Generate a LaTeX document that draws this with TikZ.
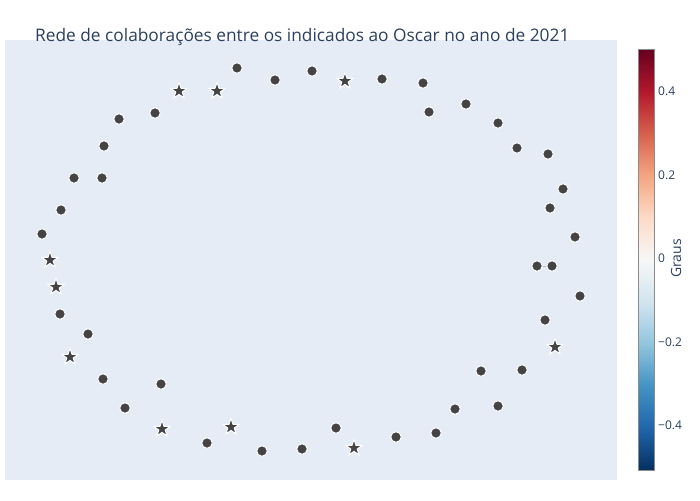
\documentclass[tikz,border=0pt]{standalone}
\usepackage{fontspec}
\setmainfont{Open Sans}
\usetikzlibrary{positioning,shapes.geometric}

\definecolor{plotbg}{HTML}{E5ECF6}
\definecolor{markgray}{HTML}{444444}
\definecolor{inkblue}{HTML}{2A3F5F}
% RdBu, from -0.5 (cb0) up to 0.5 (cb10)
\definecolor{cb0}{RGB}{5,48,97}
\definecolor{cb1}{RGB}{33,102,172}
\definecolor{cb2}{RGB}{67,147,195}
\definecolor{cb3}{RGB}{146,197,222}
\definecolor{cb4}{RGB}{209,229,240}
\definecolor{cb5}{RGB}{247,247,247}
\definecolor{cb6}{RGB}{253,219,199}
\definecolor{cb7}{RGB}{244,165,130}
\definecolor{cb8}{RGB}{214,96,77}
\definecolor{cb9}{RGB}{178,24,43}
\definecolor{cb10}{RGB}{103,0,31}

\begin{document}
\begin{tikzpicture}[x=1pt,y=-1pt]
	\tikzstyle{actor}=[circle, fill=markgray, draw=white, line width=1pt, inner sep=0pt, minimum size=10.5pt]
	\tikzstyle{winner}=[star, star points=5, star point ratio=2.5, fill=markgray, draw=white, line width=1pt, inner sep=0pt, minimum size=17pt]
	\tikzstyle{link}=[draw=black!25, line width=0.8pt]
	\tikzstyle{tick}=[font=\fontsize{12}{12}\selectfont, text=inkblue, anchor=west, inner sep=0pt]

	\useasboundingbox (0,0) rectangle (700,500);
	\fill[plotbg] (5,40) rectangle (617,480);

	\node (title) [anchor=base west, inner sep=0pt, text=inkblue, font=\fontsize{17.3}{17.3}\selectfont] at (35,42) {Rede de colaborações entre os indicados ao Oscar no ano de 2021};

	% nominees
	\foreach \n/\x/\y in {1/237/68, 2/275/80, 3/312/71, 4/382/79, 5/423/83, 6/429/112, 7/466/104,
		8/498/123, 9/517/148, 10/548/154, 11/563/189, 12/550/208, 13/575/237, 14/537/266,
		15/552/266, 16/580/296, 17/545/320, 18/522/370, 19/481/371, 20/498/406, 21/455/409,
		22/436/433, 23/396/437, 24/336/428, 25/302/449, 26/262/451, 27/207/443, 28/161/384,
		29/125/408, 30/103/379, 31/88/334, 32/60/314, 33/42/234, 34/61/210, 35/74/178,
		36/102/178, 37/104/146, 38/119/119, 39/155/113}
		\node (c\n) [actor] at (\x,\y) {};

	% winners
	\foreach \n/\x/\y in {1/179/91, 2/217/91, 3/345/81, 4/50/260, 5/56/287, 6/70/357,
		7/162/429, 8/231/427, 9/354/448, 10/555/347}
		\node (s\n) [winner] at (\x,\y) {};

	\draw[link] (c14) -- (c15);

	% colour bar
	\foreach \i [evaluate=\i as \j using int(\i+1)] in {0,...,9}
		\shade[bottom color=cb\i, top color=cb\j] (638.5,{470-\i*42.07}) rectangle (654.5,{470-\j*42.07});
	\draw[black!45, line width=1pt] (638.5,49.3) rectangle (654.5,470);

	\node (t4) [tick] at (658,91.7) {0.4};
	\node (t2) [tick] at (658,175) {0.2};
	\node (t0) [tick] at (658,258.5) {0};
	\node (tm2) [tick] at (658,342) {−0.2};
	\node (tm4) [tick] at (658,425.5) {−0.4};
	\node (cbtitle) [rotate=90, text=inkblue, inner sep=0pt, font=\fontsize{14}{14}\selectfont] at (676,258.5) {Graus};
\end{tikzpicture}
\end{document}
